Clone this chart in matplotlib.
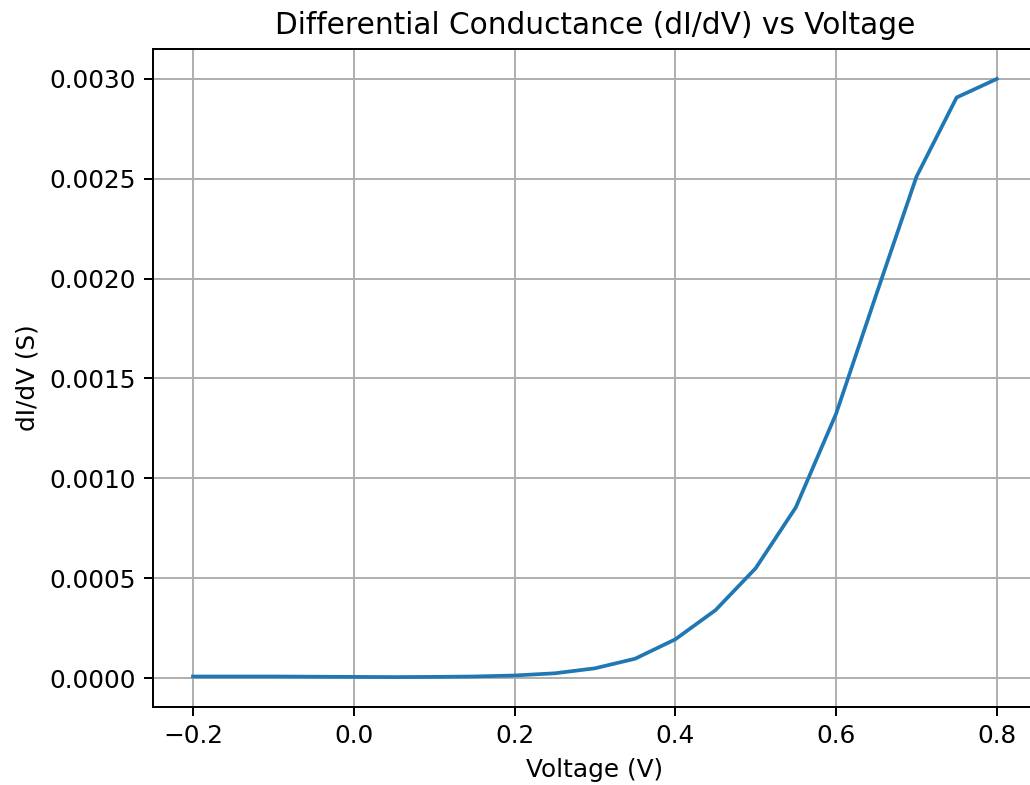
import matplotlib
matplotlib.use("Agg")
import matplotlib.pyplot as plt

voltage = [-0.20, -0.15, -0.10, -0.05, 0.00, 0.05, 0.10, 0.15, 0.20, 0.25,
           0.30, 0.35, 0.40, 0.45, 0.50, 0.55, 0.60, 0.65, 0.70, 0.75, 0.80]
didv = [8e-6, 8e-6, 8e-6, 7e-6, 6e-6, 5e-6, 6e-6, 8e-6, 1.3e-5, 2.4e-5,
        4.9e-5, 9.7e-5, 1.94e-4, 3.4e-4, 5.5e-4, 8.55e-4, 1.323e-3, 1.92e-3,
        2.51e-3, 2.907e-3, 3.0e-3]

title = "Differential Conductance (dI/dV) vs Voltage"
xlabel = "Voltage (V)"
ylabel = "dI/dV (S)"

dpi = 178
fig = plt.figure(figsize=(1030 / dpi, 785 / dpi), dpi=dpi)
ax = fig.add_axes([152.8 / 1030, 78 / 785, (1037 - 152.8) / 1030, (707 - 49) / 785])
ax.plot(voltage, didv, color="#1f77b4")
ax.set_title(title)
ax.set_xlabel(xlabel)
ax.set_ylabel(ylabel)
ax.grid(True)
fig.savefig("out.png", dpi=dpi)
